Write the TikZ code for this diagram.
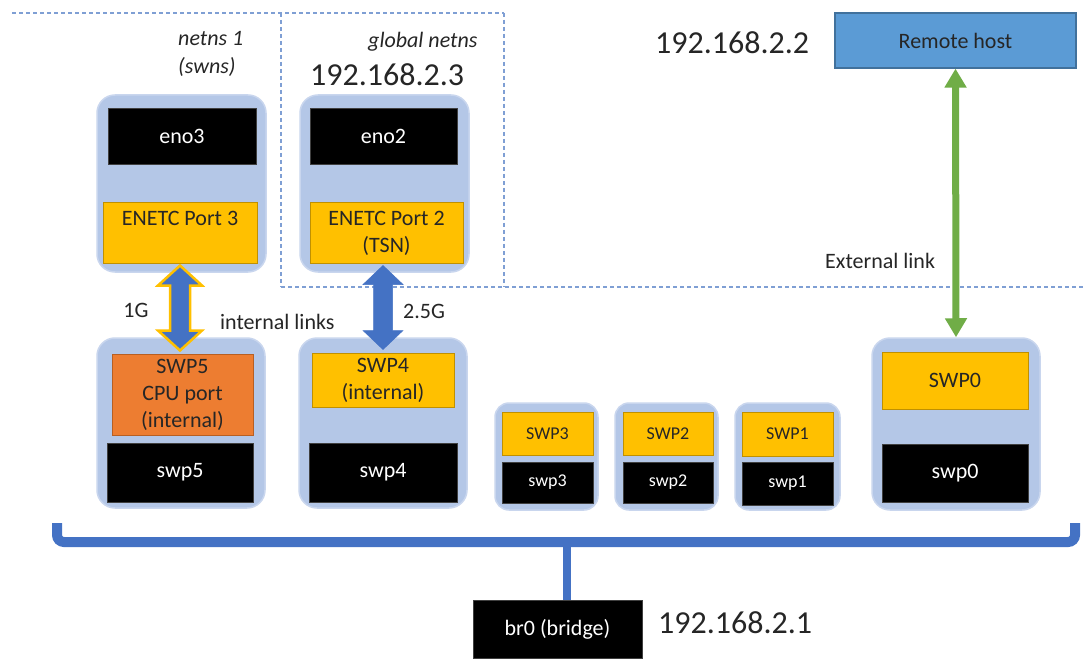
\documentclass[tikz,border=0pt]{standalone}
\usepackage{fontspec}
\setmainfont{Carlito}
\usetikzlibrary{arrows.meta,calc}
\definecolor{contfill}{HTML}{B4C7E7}
\definecolor{contedge}{HTML}{C9D6EE}
\definecolor{portyel}{HTML}{FFC000}
\definecolor{portyeledge}{HTML}{C09000}
\definecolor{portorg}{HTML}{ED7D31}
\definecolor{portorgedge}{HTML}{B85F22}
\definecolor{linkblue}{HTML}{4472C4}
\definecolor{remoteblue}{HTML}{5B9BD5}
\definecolor{remoteedge}{HTML}{41719C}
\definecolor{linkgreen}{HTML}{70AD47}
\definecolor{nsdash}{HTML}{7F9FD4}
\definecolor{textgrey}{HTML}{262626}
\tikzset{
  cont/.style={rounded corners=18pt, fill=contfill, draw=contedge, line width=1.5pt, inner sep=0pt},
  blackbox/.style={fill=black, draw=black!75, line width=0.6pt, text=white, inner sep=0pt, align=center, font=\fontsize{22}{27}\selectfont},
  yelbox/.style={fill=portyel, draw=portyeledge, line width=1pt, text=textgrey, inner sep=0pt, align=center, font=\fontsize{22}{27}\selectfont},
  orgbox/.style={fill=portorg, draw=portorgedge, line width=1pt, text=textgrey, inner sep=0pt, align=center, font=\fontsize{22}{27}\selectfont},
  smallfont/.style={font=\fontsize{18}{22}\selectfont},
  lbl/.style={inner sep=0pt, anchor=west, text=textgrey, font=\fontsize{22}{27}\selectfont},
  iplbl/.style={inner sep=0pt, anchor=west, text=textgrey, font=\fontsize{32}{38}\selectfont},
  nsline/.style={draw=nsdash, line width=1.1pt, dash pattern=on 4pt off 3pt},
  bracketline/.style={draw=linkblue, line width=10pt},
  arrowone/.style={fill=linkblue, draw=portyel, line width=2.5pt, line join=miter},
  arrowtwo/.style={fill=linkblue, draw=linkblue, line width=0.5pt},
  greenarr/.style={draw=linkgreen, line width=7pt, {Triangle[width=21pt,length=19pt]}-{Triangle[width=21pt,length=19pt]}}
}
\begin{document}
\begin{tikzpicture}[x=1pt,y=-1pt]
\useasboundingbox[fill=white] (0,0) rectangle (1083,660);

% namespace dashed borders
\coordinate (nsA) at (12,13);
\coordinate (nsB) at (504,13);
\coordinate (nsC) at (281,13);
\coordinate (nsD) at (281,287);
\coordinate (nsE) at (504,287);
\coordinate (nsF) at (1083,287);
\draw[nsline] (nsA) -- (nsB);
\draw[nsline] (nsC) -- (nsD);
\draw[nsline] (nsB) -- (nsE);
\draw[nsline] (nsD) -- (nsF);

% namespace labels
\node[lbl, align=left, font=\fontsize{22}{28}\selectfont\itshape] (ns1) at (178,54) {netns 1\\(swns)};
\node[lbl, font=\fontsize{22}{27}\selectfont\itshape] (gns) at (368,42) {global netns};
\node[iplbl] (ip3) at (310,75) {192.168.2.3};
\node[iplbl] (ip2) at (655,43) {192.168.2.2};
\node[iplbl] (ip1) at (658,623) {192.168.2.1};

% top containers
\node[cont, minimum width=169pt, minimum height=177pt] (c1) at (181.5,183.5) {};
\node[blackbox, minimum width=148pt, minimum height=56pt] (eno3) at (182,136) {eno3};
\node[yelbox, minimum width=154pt, minimum height=60pt] (enetc3) at (180,233) {ENETC Port 3\\\phantom{(TSN)}};

\node[cont, minimum width=169pt, minimum height=177pt] (c2) at (384.5,183.5) {};
\node[blackbox, minimum width=147pt, minimum height=56pt] (eno2) at (383.5,136) {eno2};
\node[yelbox, minimum width=153pt, minimum height=60pt] (enetc2) at (386.5,233) {ENETC Port 2\\(TSN)};

% switch port containers
\node[cont, minimum width=168pt, minimum height=170pt] (c5) at (181,423) {};
\node[orgbox, minimum width=141pt, minimum height=81pt] (swp5box) at (182.5,394.5) {SWP5\\CPU port\\(internal)};
\node[blackbox, minimum width=146pt, minimum height=59pt] (swp5) at (180,472.5) {swp5};

\node[cont, minimum width=168pt, minimum height=170pt] (c4) at (383,423) {};
\node[yelbox, minimum width=142pt, minimum height=54pt] (swp4box) at (383,380) {SWP4\\(internal)};
\node[blackbox, minimum width=148pt, minimum height=59pt] (swp4) at (383,472.5) {swp4};

\node[cont, rounded corners=14pt, minimum width=103pt, minimum height=107pt] (c3) at (546.5,456.5) {};
\node[yelbox, smallfont, minimum width=91pt, minimum height=43pt] (swp3box) at (547.5,433.5) {SWP3};
\node[blackbox, smallfont, minimum width=91pt, minimum height=41pt] (swp3) at (547.5,482.5) {swp3};

\node[cont, rounded corners=14pt, minimum width=103pt, minimum height=107pt] (c2s) at (666.5,456.5) {};
\node[yelbox, smallfont, minimum width=90pt, minimum height=43pt] (swp2box) at (668,433.5) {SWP2};
\node[blackbox, smallfont, minimum width=90pt, minimum height=41pt] (swp2) at (668,482.5) {swp2};

\node[cont, rounded corners=14pt, minimum width=105pt, minimum height=107pt] (c1s) at (787.5,456.5) {};
\node[yelbox, smallfont, minimum width=91pt, minimum height=44pt] (swp1box) at (787.5,434) {SWP1};
\node[blackbox, smallfont, minimum width=91pt, minimum height=43pt] (swp1) at (787.5,483.5) {swp1};

\node[cont, minimum width=168pt, minimum height=172pt] (c0) at (956,424) {};
\node[yelbox, minimum width=146pt, minimum height=57pt] (swp0box) at (955,380.5) {SWP0};
\node[blackbox, minimum width=146pt, minimum height=58pt] (swp0) at (955,473) {swp0};

% remote host
\node[fill=remoteblue, draw=remoteedge, line width=1.2pt, text=textgrey, inner sep=0pt, minimum width=241pt, minimum height=55pt, font=\fontsize{22}{27}\selectfont] (remote) at (955.5,40.5) {Remote host};

% bridge
\node[blackbox, minimum width=169pt, minimum height=58pt] (br0) at (557.5,629) {br0 (bridge)};

% link labels
\node[lbl, anchor=center] (l1g) at (136,310) {1G};
\node[lbl] (lint) at (220,322) {internal links};
\node[lbl] (l25g) at (403,311) {2.5G};
\node[lbl] (lext) at (825,261) {External link};

% internal link arrows
\coordinate (t1) at ($(enetc3.south)+(0,2)$);
\coordinate (b1) at ($(t1 |- swp5box.north)+(0,-3)$);
\draw[arrowone] (t1) -- ($(t1)+(22,20)$) -- ($(t1)+(10,20)$) -- ($(b1)+(10,-20)$) -- ($(b1)+(22,-20)$) -- (b1)
  -- ($(b1)+(-22,-20)$) -- ($(b1)+(-10,-20)$) -- ($(t1)+(-10,20)$) -- ($(t1)+(-22,20)$) -- cycle;

\coordinate (t2) at ($(enetc2.south)+(-3.5,2)$);
\coordinate (b2) at ($(t2 |- swp4box.north)+(0,-3)$);
\draw[arrowtwo] (t2) -- ($(t2)+(20,19)$) -- ($(t2)+(9.5,19)$) -- ($(b2)+(9.5,-19)$) -- ($(b2)+(20,-19)$) -- (b2)
  -- ($(b2)+(-20,-19)$) -- ($(b2)+(-9.5,-19)$) -- ($(t2)+(-9.5,19)$) -- ($(t2)+(-20,19)$) -- cycle;

% external link
\draw[greenarr] (remote.south) -- (c0.north);

% bridge bracket
\coordinate (brL) at (57,523);
\coordinate (brR) at (1075,523);
\coordinate (stem) at (567,542);
\draw[bracketline, rounded corners=7pt] (brL) -- (57,542) -- (1075,542) -- (brR);
\draw[draw=linkblue, line width=8pt] (stem) -- (stem |- br0.north);
\end{tikzpicture}
\end{document}
